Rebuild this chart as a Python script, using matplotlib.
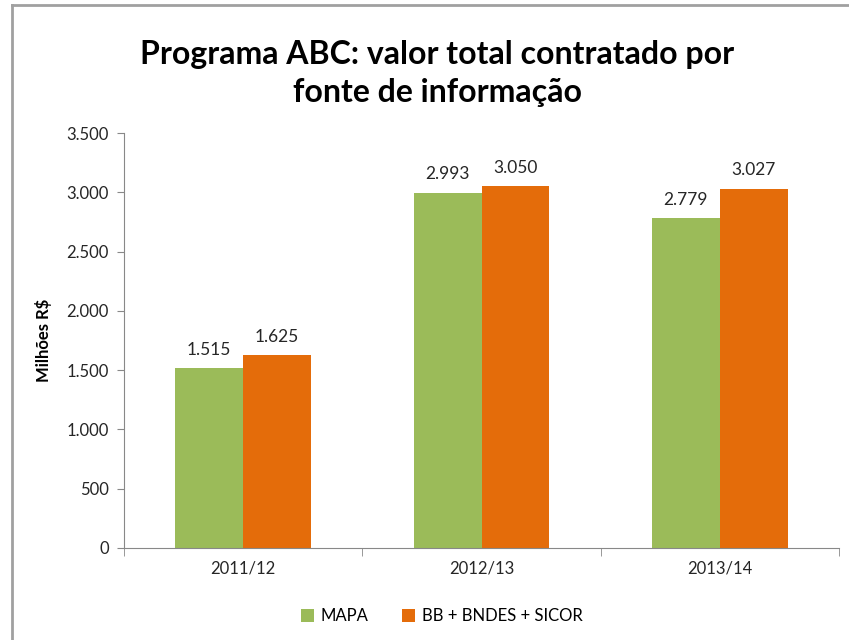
import matplotlib.pyplot as plt
from matplotlib.lines import Line2D
import numpy as np

anos = ['2011/12', '2012/13', '2013/14']
mapa = [1515, 2993, 2779]
bb_bndes_sicor = [1625, 3050, 3027]
rotulos_mapa = ['1.515', '2.993', '2.779']
rotulos_bb = ['1.625', '3.050', '3.027']
yticks = [0, 500, 1000, 1500, 2000, 2500, 3000, 3500]

plt.rcParams['font.family'] = ['Lato', 'DejaVu Sans']

fig = plt.figure(figsize=(8.49, 6.4), dpi=100)
ax = fig.add_axes([124 / 849, 1 - 548 / 640, 715 / 849, 415 / 640])

# moldura cinza (so topo e esquerda aparecem)
x0, y0 = 12 / 849, 1 - 5 / 640
fig.lines.append(Line2D([x0, x0], [0, y0], transform=fig.transFigure,
                        color='#a0a0a0', linewidth=2))
fig.lines.append(Line2D([x0, 1], [y0, y0], transform=fig.transFigure,
                        color='#a0a0a0', linewidth=2))

x = np.arange(len(anos))
w = 0.285
b1 = ax.bar(x - w / 2, mapa, w, color='#9BBB59', label='MAPA')
b2 = ax.bar(x + w / 2, bb_bndes_sicor, w, color='#E46C0A', label='BB + BNDES + SICOR')

for rects, labs in [(b1, rotulos_mapa), (b2, rotulos_bb)]:
    for r, t in zip(rects, labs):
        ax.text(r.get_x() + r.get_width() / 2, r.get_height() + 90, t,
                ha='center', va='bottom', fontsize=12.5, color='#262626')

ax.set_xlim(-0.5, 2.5)
ax.set_ylim(0, 3500)
ax.set_yticks(yticks)
ax.set_yticklabels([f'{v:,}'.replace(',', '.') for v in yticks])
ax.set_xticks(x)
ax.set_xticklabels(anos)
ax.set_xticks([-0.5, 0.5, 1.5, 2.5], minor=True)
ax.tick_params(axis='both', labelsize=12, colors='#262626')
ax.tick_params(axis='y', length=5, color='#888888', pad=6)
ax.tick_params(axis='x', which='major', length=0, pad=9)
ax.tick_params(axis='x', which='minor', length=6, color='#888888')
for s in ['top', 'right']:
    ax.spines[s].set_visible(False)
for s in ['left', 'bottom']:
    ax.spines[s].set_color('#888888')

ax.set_ylabel('Milhões R$', fontsize=12, fontweight='bold', labelpad=10)

fig.text(0.515, 0.885, 'Programa ABC: valor total contratado por\nfonte de informação',
         ha='center', va='center', fontsize=23, fontweight='bold', linespacing=1.4)

fig.legend(handles=[b1, b2], loc='center', bbox_to_anchor=(0.52, 1 - 616 / 640),
           ncol=2, frameon=False, fontsize=12, handlelength=0.8, handleheight=0.8,
           columnspacing=2.0, handletextpad=0.4)

fig.savefig('out.png', dpi=100)
